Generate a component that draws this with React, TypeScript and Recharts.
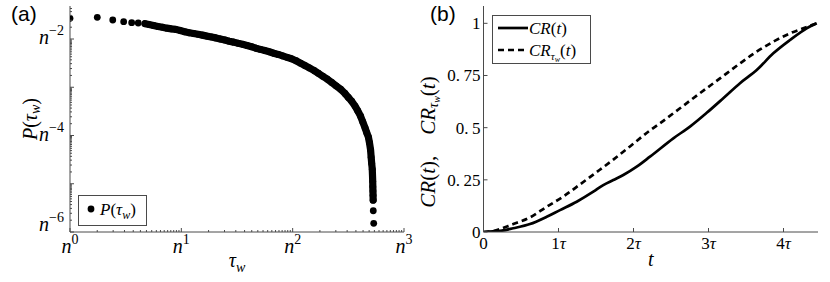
import React from 'react';
import { ScatterChart, Scatter, LineChart, Line, XAxis, YAxis, Legend } from 'recharts';

const SERIF = '"Liberation Serif", "Times New Roman", serif';
const SANS = '"Liberation Sans", Arial, sans-serif';
const INK = '#000';
const FRAME = '#4a4a4a';

// ---------------- Panel (a): P(tau_w), both axes in powers of n ----------------
const tauLogN = [
  0, 0.245, 0.384, 0.482, 0.554, 0.613, 0.674, 0.71, 0.75, 0.79, 0.83, 0.87, 0.91, 0.95, 0.99,
  1.03, 1.07, 1.11, 1.15, 1.19, 1.23, 1.27, 1.31, 1.35, 1.39, 1.43, 1.47, 1.51, 1.55, 1.59,
  1.63, 1.67, 1.71, 1.75, 1.79, 1.83, 1.87, 1.91, 1.95, 1.99, 2.03, 2.07, 2.11, 2.15, 2.19,
  2.23, 2.27, 2.31, 2.35, 2.39, 2.43, 2.47, 2.5, 2.53, 2.56, 2.585, 2.61, 2.63, 2.65, 2.665,
  2.68, 2.69, 2.7, 2.705, 2.71, 2.715, 2.717, 2.719, 2.72, 2.721, 2.722, 2.723, 2.724, 2.728,
];
const pLogN = [
  -1.571, -1.55, -1.606, -1.641, -1.662, -1.668, -1.683, -1.7, -1.72, -1.74, -1.755, -1.775, -1.79, -1.8, -1.825,
  -1.85, -1.87, -1.885, -1.903, -1.92, -1.94, -1.957, -1.977, -2.0, -2.02, -2.045, -2.065, -2.09, -2.11, -2.135,
  -2.16, -2.19, -2.215, -2.24, -2.265, -2.295, -2.32, -2.35, -2.38, -2.41, -2.45, -2.5, -2.55, -2.6, -2.65,
  -2.71, -2.77, -2.83, -2.9, -2.97, -3.04, -3.13, -3.21, -3.29, -3.39, -3.49, -3.6, -3.72, -3.84, -3.94,
  -4.03, -4.15, -4.3, -4.45, -4.58, -4.7, -4.82, -4.95, -5.06, -5.15, -5.24, -5.34, -5.56, -5.82,
];
// points 0..6 are isolated markers; 6..71 overlap into a solid band; the last two are isolated again
const bandStart = 6;
const bandEnd = 71;
const aXDomain: [number, number] = [0, 3];
const aYDomain: [number, number] = [-6, -1.316];
const aXMajor = [0, 1, 2, 3];
const aXLabels = ['0', '1', '2', '3'];
const aYMajor = [-6, -5, -4, -3, -2];
const aYLabelled = [-6, -4, -2];
const aYLabels = ['\u22126', '\u22124', '\u22122'];
const minorBase = 17;

// ---------------- Panel (b): cumulative curves ----------------
const crT = [0, 0.22, 0.397, 0.62, 0.843, 1.02, 1.243, 1.464, 1.597, 1.731, 1.864, 2.043, 2.22, 2.531, 2.753, 2.976, 3.197, 3.42, 3.643, 3.864, 4.087, 4.309, 4.443];
const crV = [0, 0.005, 0.018, 0.038, 0.073, 0.105, 0.145, 0.193, 0.225, 0.249, 0.273, 0.313, 0.361, 0.449, 0.505, 0.571, 0.641, 0.713, 0.776, 0.856, 0.92, 0.976, 1.0];
const crwT = [0, 0.087, 0.397, 0.62, 0.843, 1.064, 1.287, 1.509, 1.731, 1.953, 2.22, 2.353, 2.62, 2.886, 3.153, 3.42, 3.642, 3.864, 4.087, 4.264, 4.443];
const crwV = [0, 0.002, 0.038, 0.07, 0.121, 0.17, 0.228, 0.287, 0.347, 0.41, 0.487, 0.521, 0.593, 0.665, 0.736, 0.808, 0.864, 0.912, 0.952, 0.976, 1.0];
const bXDomain: [number, number] = [0, 4.46];
const bYDomain: [number, number] = [0, 1.083];
const bXTicks = [0, 1, 2, 3, 4];
const bXLabels = ['0', '1\u03c4', '2\u03c4', '3\u03c4', '4\u03c4'];
const bYTicks = [0, 0.25, 0.5, 0.75, 1];
const bYLabels = ['0', '0.25', '0.5', '0.75', '1'];

const aData = tauLogN.map((t, i) => ({ tau: t, p: pLogN[i] }));
const aHead = aData.slice(0, bandStart);
const aBand = aData.slice(bandStart, bandEnd + 1);
const aTail = aData.slice(bandEnd + 1);
const crData = crT.map((t, i) => ({ t, v: crV[i] }));
const crwData = crwT.map((t, i) => ({ t, v: crwV[i] }));

const near = (a: number, b: number) => Math.abs(a - b) < 1e-9;

function logTicks(lo: number, hi: number, majors: number[]) {
  const out: number[] = [...majors];
  for (let e = Math.floor(lo); e < hi; e++) {
    for (let k = 2; k < minorBase; k++) {
      const v = e + Math.log(k) / Math.log(minorBase);
      if (v > lo && v < hi) out.push(v);
    }
  }
  return out.sort((a, b) => a - b);
}
const aXTicksAll = logTicks(aXDomain[0], aXDomain[1], aXMajor);
const aYTicksAll = logTicks(aYDomain[0], aYDomain[1], aYMajor);

const PowerN = ({ x, y, exp, anchor }: any) => (
  <text x={x} y={y} textAnchor={anchor} fontFamily={SERIF} fill={INK}>
    <tspan fontSize={20} fontStyle="italic">n</tspan>
    <tspan fontSize={14} dy={-9}>{exp}</tspan>
  </text>
);

// tick renderers (axes use tickSize 0 / tickMargin 0 so x,y are on the axis line)
const ABottomTick = (props: any) => {
  const { x, y, payload } = props;
  const v = payload.value;
  const major = aXMajor.some((m) => near(m, v));
  const idx = aXMajor.findIndex((m) => near(m, v));
  return (
    <g>
      <line x1={x} x2={x} y1={y} y2={y - (major ? 4 : 2)} stroke={FRAME} />
      {idx >= 0 && <PowerN x={x} y={y + 21} exp={aXLabels[idx]} anchor="middle" />}
    </g>
  );
};
const ATopTick = (props: any) => {
  const { x, y, payload } = props;
  const major = aXMajor.some((m) => near(m, payload.value));
  return <line x1={x} x2={x} y1={y} y2={y + (major ? 4 : 2)} stroke={FRAME} />;
};
const ALeftTick = (props: any) => {
  const { x, y, payload } = props;
  const v = payload.value;
  const major = aYMajor.some((m) => near(m, v));
  const idx = aYLabelled.findIndex((m) => near(m, v));
  const lift = near(v, aYDomain[0]) ? -6 : 0;
  return (
    <g>
      <line x1={x} x2={x + (major ? 4 : 2)} y1={y} y2={y} stroke={FRAME} />
      {idx >= 0 && <PowerN x={x - 6} y={y + 5 + lift} exp={aYLabels[idx]} anchor="end" />}
    </g>
  );
};
const ARightTick = (props: any) => {
  const { x, y, payload } = props;
  const major = aYMajor.some((m) => near(m, payload.value));
  return <line x1={x} x2={x - (major ? 4 : 2)} y1={y} y2={y} stroke={FRAME} />;
};

const BBottomTick = (props: any) => {
  const { x, y, payload } = props;
  const idx = bXTicks.findIndex((m) => near(m, payload.value));
  const lab = idx >= 0 ? bXLabels[idx] : '';
  const hasTau = lab.endsWith('\u03c4');
  return (
    <g>
      <line x1={x} x2={x} y1={y} y2={y - 4} stroke={FRAME} />
      <text x={x} y={y + 17} textAnchor="middle" fontFamily={SERIF} fontSize={17} fill={INK}>
        <tspan>{hasTau ? lab.slice(0, -1) : lab}</tspan>
        {hasTau && <tspan fontStyle="italic">{'\u03c4'}</tspan>}
      </text>
    </g>
  );
};
const BTopTick = (props: any) => {
  const { x, y } = props;
  return <line x1={x} x2={x} y1={y} y2={y + 4} stroke={FRAME} />;
};
const BLeftTick = (props: any) => {
  const { x, y, payload } = props;
  const idx = bYTicks.findIndex((m) => near(m, payload.value));
  const lab = idx >= 0 ? bYLabels[idx].replace('.', '.\u2009') : '';
  return (
    <g>
      <line x1={x} x2={x + 4} y1={y} y2={y} stroke={FRAME} />
      <text x={x - 3} y={y + 6} textAnchor="end" fontFamily={SERIF} fontSize={17} fill={INK}>{lab}</text>
    </g>
  );
};
const BRightTick = (props: any) => {
  const { x, y } = props;
  return <line x1={x} x2={x - 4} y1={y} y2={y} stroke={FRAME} />;
};

const Dot = (p: any) => <circle cx={p.cx} cy={p.cy} r={3.4} fill={INK} />;

const LegendA = () => (
  <div style={{ width: 69, height: 31, border: `1px solid ${FRAME}`, boxSizing: 'border-box', background: '#fff' }}>
    <svg width={67} height={29} style={{ display: 'block' }}>
      <circle cx={12} cy={13} r={3.4} fill={INK} />
      <text x={21} y={19} fontFamily={SERIF} fontSize={17} fill={INK}>
        <tspan fontStyle="italic">P</tspan>(<tspan fontStyle="italic">{'\u03c4'}</tspan>
        <tspan fontStyle="italic" fontSize={12} dy={4}>w</tspan>
        <tspan dy={-4}>)</tspan>
      </text>
    </svg>
  </div>
);

const LegendB = () => (
  <div style={{ width: 99, height: 49, border: `1px solid ${FRAME}`, boxSizing: 'border-box', background: '#fff' }}>
    <svg width={97} height={47} style={{ display: 'block' }}>
      <line x1={5} x2={35} y1={12} y2={12} stroke={INK} strokeWidth={2.7} />
      <text x={36} y={18} fontFamily={SERIF} fontSize={17} fontStyle="italic" fill={INK}>
        CR<tspan fontStyle="normal">(</tspan>t<tspan fontStyle="normal">)</tspan>
      </text>
      <line x1={5} x2={35} y1={34} y2={34} stroke={INK} strokeWidth={2.7} strokeDasharray="6 4" />
      <text x={36} y={40} fontFamily={SERIF} fontSize={17} fontStyle="italic" fill={INK}>
        CR<tspan fontSize={11} dy={4}>{'\u03c4'}</tspan><tspan fontSize={8} dy={2}>w</tspan>
        <tspan fontStyle="normal" dy={-6}>(</tspan>t<tspan fontStyle="normal">)</tspan>
      </text>
    </svg>
  </div>
);

const PanelA = () => (
  <ScatterChart width={420} height={282} margin={{ top: 6, right: 16, bottom: 20, left: 0 }}>
    <XAxis
      dataKey="tau" type="number" domain={aXDomain} ticks={aXTicksAll} interval={0} allowDataOverflow
      tick={ABottomTick} tickLine={false} tickSize={0} tickMargin={0} height={30}
      axisLine={{ stroke: FRAME }}
      label={(p: any) => {
        const vb = p.viewBox || { x: 70, y: 232, width: 334 };
        return (
          <text x={vb.x + vb.width / 2} y={vb.y + 35} textAnchor="middle" fontFamily={SERIF} fontSize={20} fill={INK}>
            <tspan fontStyle="italic">{'\u03c4'}</tspan><tspan fontStyle="italic" fontSize={14} dy={5}>w</tspan>
          </text>
        );
      }}
    />
    <XAxis
      xAxisId="top" orientation="top" type="number" domain={aXDomain} ticks={aXTicksAll} interval={0} allowDataOverflow
      tick={ATopTick} tickLine={false} tickSize={0} tickMargin={0} height={0} axisLine={{ stroke: FRAME }}
    />
    <YAxis
      dataKey="p" type="number" domain={aYDomain} ticks={aYTicksAll} interval={0} allowDataOverflow
      tick={ALeftTick} tickLine={false} tickSize={0} tickMargin={0} width={70}
      axisLine={{ stroke: FRAME }}
      label={(p: any) => {
        const vb = p.viewBox || { x: 0, y: 6, width: 70, height: 226 };
        const cx = 30;
        const cy = vb.y + vb.height / 2;
        return (
          <text x={cx} y={cy} transform={`rotate(-90 ${cx} ${cy})`} textAnchor="middle" dominantBaseline="central" fontFamily={SERIF} fontSize={20} fill={INK}>
            <tspan fontStyle="italic">P</tspan>(<tspan fontStyle="italic">{'\u03c4'}</tspan>
            <tspan fontStyle="italic" fontSize={14} dy={5}>w</tspan>
            <tspan dy={-5}>)</tspan>
          </text>
        );
      }}
    />
    <YAxis
      yAxisId="right" orientation="right" type="number" domain={aYDomain} ticks={aYTicksAll} interval={0} allowDataOverflow
      tick={ARightTick} tickLine={false} tickSize={0} tickMargin={0} width={0} axisLine={{ stroke: FRAME }}
    />
    <Legend
      layout="vertical" align="center" verticalAlign="middle"
      content={() => <LegendA />}
      wrapperStyle={{ position: 'absolute', left: 78, top: 195, width: 69, height: 31 }}
    />
    <Scatter data={aHead} fill={INK} shape={Dot} isAnimationActive={false} />
    <Scatter
      data={aBand} fill={INK} shape={Dot} isAnimationActive={false}
      line={{ stroke: INK, strokeWidth: 7.2, strokeLinecap: 'round', strokeLinejoin: 'round' }}
      lineJointType="linear"
    />
    <Scatter data={aTail} fill={INK} shape={Dot} isAnimationActive={false} />
  </ScatterChart>
);

const PanelB = () => (
  <LineChart width={416} height={282} margin={{ top: 6, right: 12, bottom: 20, left: 0 }}>
    <XAxis
      dataKey="t" type="number" domain={bXDomain} ticks={bXTicks} interval={0} allowDataOverflow
      tick={BBottomTick} tickLine={false} tickSize={0} tickMargin={0} height={30}
      axisLine={{ stroke: FRAME }}
      label={(p: any) => {
        const vb = p.viewBox || { x: 69.5, y: 232, width: 334.5 };
        return (
          <text x={vb.x + vb.width / 2} y={vb.y + 34} textAnchor="middle" fontFamily={SERIF} fontSize={20} fontStyle="italic" fill={INK}>t</text>
        );
      }}
    />
    <XAxis
      xAxisId="top" orientation="top" type="number" domain={bXDomain} ticks={bXTicks} interval={0} allowDataOverflow
      tick={BTopTick} tickLine={false} tickSize={0} tickMargin={0} height={0} axisLine={{ stroke: FRAME }}
    />
    <YAxis
      type="number" domain={bYDomain} ticks={bYTicks} interval={0} allowDataOverflow
      tick={BLeftTick} tickLine={false} tickSize={0} tickMargin={0} width={69.5}
      axisLine={{ stroke: FRAME }}
      label={(p: any) => {
        const vb = p.viewBox || { x: 0, y: 6, width: 69.5, height: 226 };
        const cx = 14;
        const cy = vb.y + vb.height / 2 + 23;
        return (
          <text x={cx} y={cy} transform={`rotate(-90 ${cx} ${cy})`} textAnchor="middle" dominantBaseline="central" fontFamily={SERIF} fontSize={21} fontStyle="italic" fill={INK}>
            CR<tspan fontStyle="normal">(</tspan>t<tspan fontStyle="normal">),{'\u2003'}</tspan>CR
            <tspan fontSize={14} dy={5}>{'\u03c4'}</tspan><tspan fontSize={10} dy={3}>w</tspan>
            <tspan fontStyle="normal" dy={-8}>(</tspan>t<tspan fontStyle="normal">)</tspan>
          </text>
        );
      }}
    />
    <YAxis
      yAxisId="right" orientation="right" type="number" domain={bYDomain} ticks={bYTicks} interval={0} allowDataOverflow
      tick={BRightTick} tickLine={false} tickSize={0} tickMargin={0} width={0} axisLine={{ stroke: FRAME }}
    />
    <Legend
      layout="vertical" align="center" verticalAlign="middle"
      content={() => <LegendB />}
      wrapperStyle={{ position: 'absolute', left: 77.7, top: 15, width: 99, height: 49 }}
    />
    <Line data={crwData} dataKey="v" type="monotone" stroke={INK} strokeWidth={2.7} strokeDasharray="6 4" dot={false} isAnimationActive={false} />
    <Line data={crData} dataKey="v" type="monotone" stroke={INK} strokeWidth={2.7} dot={false} isAnimationActive={false} />
  </LineChart>
);

export default function App() {
  return (
    <div style={{ position: 'absolute', left: 0, top: 0, width: 830, height: 282, background: '#fff', overflow: 'hidden' }}>
      <div style={{ position: 'absolute', left: 0, top: 0 }}><PanelA /></div>
      <div style={{ position: 'absolute', left: 414, top: 0 }}><PanelB /></div>
      <div style={{ position: 'absolute', left: 11, top: 2, font: `21px ${SANS}`, color: INK }}>(a)</div>
      <div style={{ position: 'absolute', left: 430, top: 2, font: `21px ${SANS}`, color: INK }}>(b)</div>
    </div>
  );
}
